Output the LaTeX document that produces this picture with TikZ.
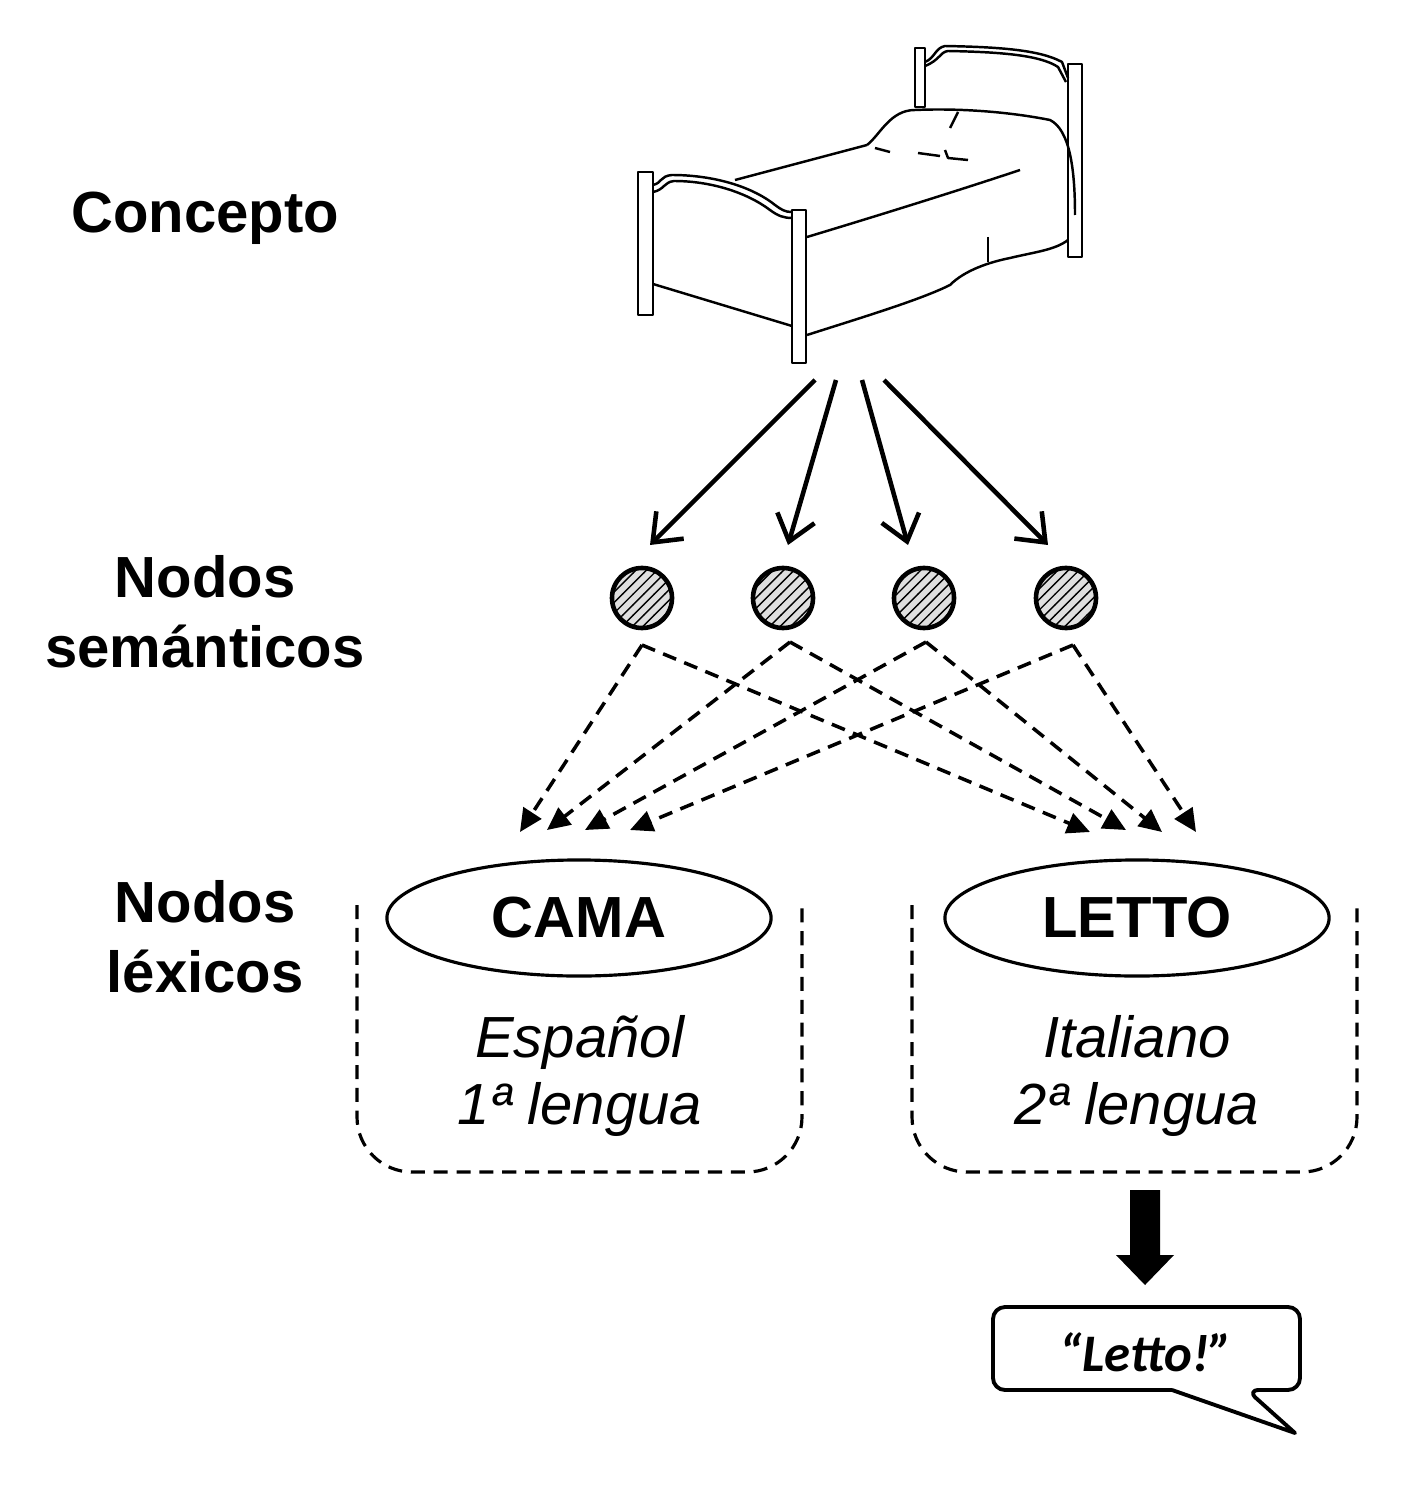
\documentclass[tikz,border=0pt]{standalone}
\usepackage{fontspec}
\setmainfont{Liberation Sans}
\newfontfamily\carlito{Carlito}
\usetikzlibrary{arrows.meta,patterns,shapes.geometric}

\tikzset{
	level/.style = {font = \fontsize{16.5}{20}\selectfont\bfseries, align = center},
	semnode/.style = {circle, draw, line width = 1.3pt, minimum size = 0.6cm, inner sep = 0pt,
		fill = gray!25, postaction = {pattern = north east lines}},
	lexnode/.style = {ellipse, draw, line width = 0.9pt, minimum width = 3.84cm, minimum height = 1.16cm,
		font = \fontsize{16.5}{20}\selectfont\bfseries},
	langbox/.style = {draw, dashed, line width = 0.9pt, dash pattern = on 4pt off 2.5pt, rounded corners = 0.55cm},
	spread/.style = {line width = 1.3pt, -{Straight Barb[length = 7pt, width = 11pt, line width = 1.3pt]}},
	link/.style = {dashed, line width = 1pt, dash pattern = on 4pt off 2.5pt, -{Triangle[length = 6.5pt, width = 6pt]}},
	bedline/.style = {line width = 0.7pt, line join = round}
}

\begin{document}
\begin{tikzpicture}[x = 0.01cm, y = -0.01cm]
\useasboundingbox (0, 0) rectangle (1401, 1491);

% level labels
\node[level] (lconc) at (205, 218) {Concepto};
\node[level] (lsem) at (205, 612) {Nodos\\semánticos};
\node[level] (llex) at (205, 937) {Nodos\\léxicos};

% bed
\begin{scope}[bedline]
	% headboard
	\draw (915, 48) rectangle (925, 107);
	\draw (1068, 64) rectangle (1082, 257);
	\draw (925, 62) .. controls (935, 58) and (935, 48) .. (945, 46) .. controls (1000, 47) and (1040, 50) .. (1062, 62) -- (1068, 78);
	\draw (925, 66) .. controls (940, 60) and (940, 52) .. (948, 51) .. controls (1000, 52) and (1040, 55) .. (1058, 67) -- (1066, 82);
	% pillow and mattress
	\draw (867, 145) .. controls (880, 135) and (890, 110) .. (915, 110) .. controls (960, 108) and (1010, 112) .. (1050, 120)
		.. controls (1070, 130) and (1075, 170) .. (1075, 215);
	\draw (735, 180) -- (867, 145);
	\draw (807, 237) .. controls (880, 215) and (960, 190) .. (1020, 170);
	\draw (807, 335) .. controls (860, 318) and (920, 300) .. (950, 285) .. controls (965, 270) and (990, 262) .. (1010, 258)
		.. controls (1035, 252) and (1055, 250) .. (1068, 240);
	\draw (988, 237) -- (988, 262);
	\draw (875, 148) -- (890, 152);  \draw (918, 153) -- (940, 156);  \draw (945, 150) -- (948, 158) -- (968, 160);
	\draw (958, 112) -- (950, 128);
	% footboard
	\draw (638, 172) rectangle (653, 315);
	\draw (792, 210) rectangle (806, 363);
	\draw (653, 185) .. controls (662, 183) and (660, 176) .. (672, 175) .. controls (710, 175) and (750, 185) .. (775, 205)
		.. controls (782, 210) and (785, 212) .. (792, 212);
	\draw (653, 192) .. controls (664, 190) and (664, 182) .. (674, 181) .. controls (710, 181) and (746, 192) .. (770, 210)
		.. controls (778, 216) and (784, 218) .. (792, 218);
	\draw (653, 284) -- (792, 326);
\end{scope}

% concept spread
\coordinate (b1) at (815, 380);
\coordinate (b2) at (836, 380);
\coordinate (b3) at (862, 380);
\coordinate (b4) at (884, 380);

\node[semnode] (s1) at (642, 598) {};
\node[semnode] (s2) at (783, 598) {};
\node[semnode] (s3) at (924, 598) {};
\node[semnode] (s4) at (1066, 598) {};

\coordinate (a1) at (650, 545);
\coordinate (a2) at (788, 545);
\coordinate (a3) at (908, 545);
\coordinate (a4) at (1048, 545);
\foreach \i in {1, ..., 4}
	\draw[spread] (b\i) -- (a\i);

% semantic to lexical
\coordinate (d1) at (642, 645);
\coordinate (d2) at (790, 642);
\coordinate (d3) at (926, 642);
\coordinate (d4) at (1073, 645);
\coordinate (l1) at (520, 832);
\coordinate (l2) at (547, 830);
\coordinate (l3) at (585, 830);
\coordinate (l4) at (630, 830);
\coordinate (r1) at (1090, 832);
\coordinate (r2) at (1126, 830);
\coordinate (r3) at (1162, 832);
\coordinate (r4) at (1196, 832);
\foreach \i in {1, ..., 4} {
	\draw[link] (d\i) -- (l\i);
	\draw[link] (d\i) -- (r\i);
}

% lexical nodes
\node[lexnode] (cama) at (579, 918) {CAMA};
\node[lexnode] (letto) at (1137, 918) {LETTO};
\draw[langbox] (357, 905) -- (357, 1172) -- (802, 1172) -- (802, 905);
\draw[langbox] (912, 905) -- (912, 1172) -- (1357, 1172) -- (1357, 905);
\node[font = \fontsize{16.5}{19.3}\selectfont\itshape, align = center] (esp) at (580, 1076) {Español\\1ª lengua};
\node[font = \fontsize{16.5}{19.3}\selectfont\itshape, align = center] (ita) at (1137, 1076) {Italiano\\2ª lengua};

% output
\fill (1130, 1190) -- (1160, 1190) -- (1160, 1255) -- (1174, 1255) -- (1145, 1285) -- (1116, 1255) -- (1130, 1255) -- cycle;
\draw[line width = 1.1pt, rounded corners = 0.12cm, line join = round]
	(1172, 1390) -- (993, 1390) -- (993, 1307) -- (1300, 1307) -- (1300, 1390) -- (1247, 1390)
	[sharp corners] -- (1295, 1433) -- (1172, 1390);
\node[font = \carlito\fontsize{15}{18}\selectfont\bfseries\itshape] (say) at (1146, 1352) {“Letto!”};

\end{tikzpicture}
\end{document}
